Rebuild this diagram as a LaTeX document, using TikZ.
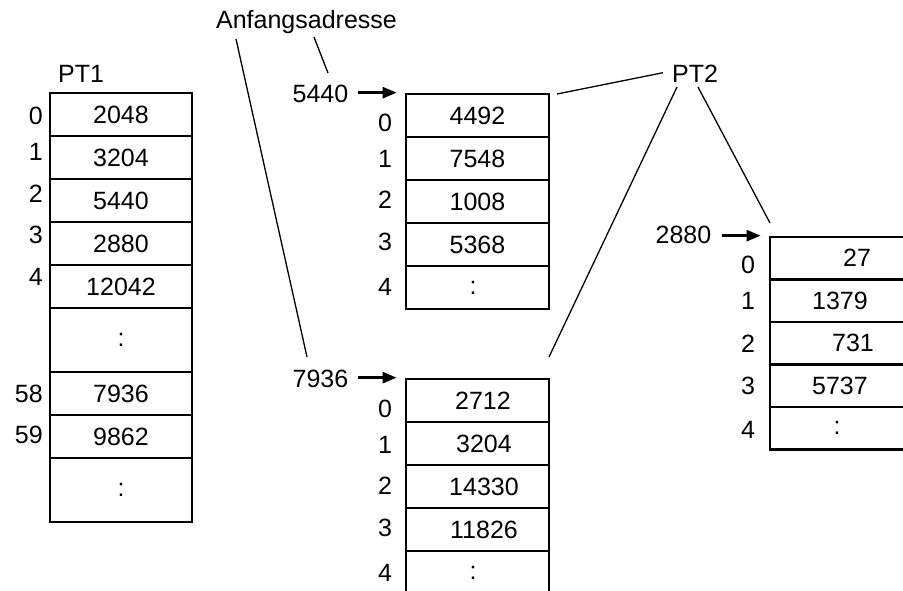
\documentclass[tikz,border=0pt]{standalone}
\usepackage{fontspec}
\setmainfont{Liberation Sans}
\usetikzlibrary{arrows.meta}
\begin{document}
\begin{tikzpicture}[x=1pt,y=-1pt,
  every node/.style={font=\fontsize{25}{29}\selectfont, inner sep=0pt},
  cell/.style={draw, line width=2.7pt, minimum width=143pt, minimum height=43pt, inner sep=0pt},
  cellb/.style={cell, minimum height=64pt},
  cellc/.style={cell, minimum height=42.5pt},
  conn/.style={line width=1.3pt},
  arr/.style={line width=2.6pt, -{Triangle[length=14pt,width=11pt]}}]
\useasboundingbox (0,0) rectangle (903,590);
\clip (0,0) rectangle (903,590);

% ---- PT1 ----
\node[anchor=base] (pt1) at (81,82) {PT1};
\node[cell, minimum width=142pt] (a0) at (121,114.5) {2048};
\node[cell, minimum width=142pt] (a1) at (121,157.5) {3204};
\node[cell, minimum width=142pt] (a2) at (121,200.5) {5440};
\node[cell, minimum width=142pt] (a3) at (121,243.5) {2880};
\node[cell, minimum width=142pt] (a4) at (121,286.5) {12042};
\node[cellb, minimum width=142pt] (ad) at (121,340) {:};
\node[cell, minimum width=142pt] (a58) at (121,393.5) {7936};
\node[cell, minimum width=142pt] (a59) at (121,436.5) {9862};
\node[cellb, minimum width=142pt] (ae) at (121,490) {:};
\node[anchor=east] (la0) at (43,115.5) {0};
\node[anchor=east] (la1) at (43,152) {1};
\node[anchor=east] (la2) at (43,193.5) {2};
\node[anchor=east] (la3) at (43,235) {3};
\node[anchor=east] (la4) at (43,276.5) {4};
\node[anchor=east] (la58) at (43,393.5) {58};
\node[anchor=east] (la59) at (43,435) {59};

% ---- top labels ----
\node[anchor=base] (anf) at (306.5,28.3) {Anfangsadresse};
\node[anchor=base] (pt2) at (695,82) {PT2};

% ---- table 5440 ----
\node[anchor=base] (n5440) at (320.5,102) {5440};
\node[cell] (b0) at (477.5,115.5) {4492};
\node[cell] (b1) at (477.5,158.5) {7548};
\node[cell] (b2) at (477.5,201.5) {1008};
\node[cell] (b3) at (477.5,244.5) {5368};
\node[cell] (b4) at (477.5,287.5) {:\hspace*{9pt}};
\node (lb0) at (385,123) {0};
\node (lb1) at (385,158.5) {1};
\node (lb2) at (385,200) {2};
\node (lb3) at (385,242) {3};
\node (lb4) at (385,286.5) {4};

% ---- table 7936 ----
\node[anchor=base] (n7936) at (320.5,387) {7936};
\node[cell] (c0) at (477.5,400.5) {\hspace*{11pt}2712};
\node[cell] (c1) at (477.5,443.5) {\hspace*{13pt}3204};
\node[cell] (c2) at (477.5,486.5) {\hspace*{13pt}14330};
\node[cell] (c3) at (477.5,529.5) {\hspace*{13pt}11826};
\node[cell] (c4) at (477.5,572.5) {:\hspace*{9pt}};
\node (lc0) at (385,408.5) {0};
\node (lc1) at (385,444.5) {1};
\node (lc2) at (385,486) {2};
\node (lc3) at (385,528) {3};
\node (lc4) at (385,572.5) {4};

% ---- table 2880 ----
\node[anchor=base] (n2880) at (683.5,243) {2880};
\node[cellc] (d0) at (841.5,258.25) {\hspace*{31pt}27};
\node[cellc] (d1) at (841.5,300.75) {1379\hspace*{3pt}};
\node[cellc] (d2) at (841.5,343.25) {\hspace*{23pt}731};
\node[cellc] (d3) at (841.5,385.75) {5737\hspace*{3pt}};
\node[cellc] (d4) at (841.5,428.25) {:\hspace*{9pt}};
\node (ld0) at (748,265) {0};
\node (ld1) at (748,300.5) {1};
\node (ld2) at (748,343.5) {2};
\node (ld3) at (748,385.5) {3};
\node (ld4) at (748,430) {4};

% ---- arrows ----
\draw[arr] ([xshift=9pt]n5440.east |- b0.north west) -- ([xshift=-8pt]b0.north west);
\draw[arr] ([xshift=9pt]n7936.east |- c0.north west) -- ([xshift=-8pt]c0.north west);
\draw[arr] ([xshift=10pt]n2880.east |- d0.north west) -- ([xshift=-8pt]d0.north west);

% ---- connector lines ----
\coordinate (p1) at (314,37);
\coordinate (q1) at (328,73);
\coordinate (p2) at (236,39);
\coordinate (q2) at (307,357);
\coordinate (p3) at (663,72.7);
\coordinate (q3) at (557,94);
\coordinate (p4) at (677,87);
\coordinate (q4) at (549,357);
\coordinate (p5) at (698,87);
\coordinate (q5) at (770,223);
\draw[conn] (p1) -- (q1);
\draw[conn] (p2) -- (q2);
\draw[conn] (p3) -- (q3);
\draw[conn] (p4) -- (q4);
\draw[conn] (p5) -- (q5);
\end{tikzpicture}
\end{document}
